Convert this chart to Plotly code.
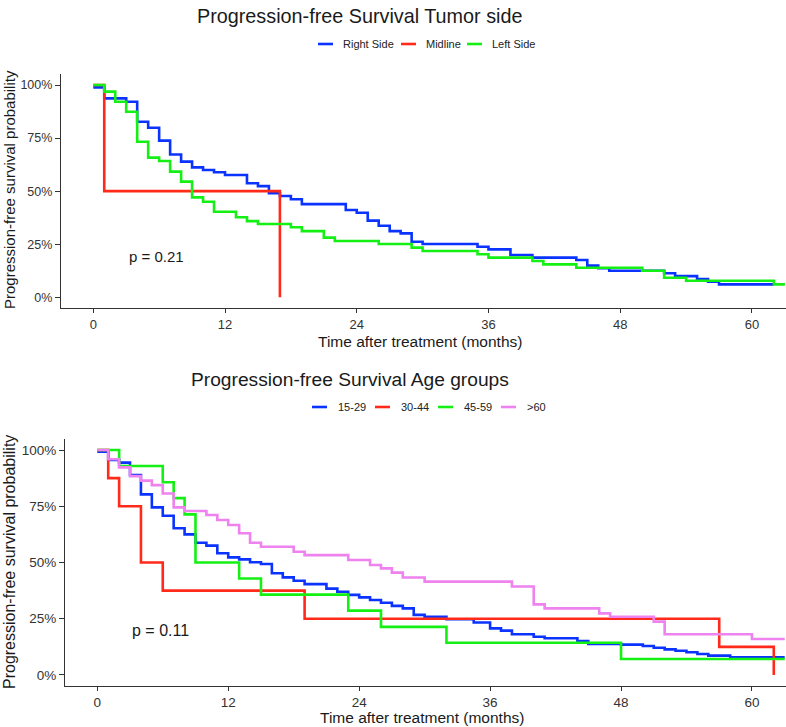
import plotly.graph_objects as go

# ---------------- data ----------------
# Top panel: Progression-free Survival by tumor side
side_names = ["Right Side", "Midline", "Left Side"]
right_months = [0, 1, 3, 4, 5, 6, 7, 8, 9, 10, 11, 12, 14, 15, 16, 17, 18, 19, 23, 24, 25, 26, 27, 28,
                29, 30, 35, 36, 38, 40, 44, 45, 46, 47, 52, 53, 55, 56, 57, 62]
right_surv = [0.989, 0.937, 0.921, 0.827, 0.799, 0.738, 0.673, 0.639, 0.612, 0.600, 0.589, 0.576, 0.537,
              0.524, 0.490, 0.477, 0.462, 0.439, 0.411, 0.398, 0.361, 0.337, 0.312, 0.301, 0.262, 0.251,
              0.238, 0.226, 0.199, 0.187, 0.176, 0.149, 0.137, 0.125, 0.113, 0.100, 0.086, 0.074, 0.061, 0.061]
midline_months = [0, 1, 17]
midline_surv = [1.0, 0.5, 0.0]
left_months = [0, 1, 2, 3, 4, 5, 6, 7, 8, 9, 10, 11, 13, 14, 15, 18, 19, 21, 22, 26, 29, 30, 35, 36,
               40, 41, 44, 50, 52, 54, 62, 63]
left_surv = [1.0, 0.969, 0.921, 0.874, 0.733, 0.658, 0.642, 0.592, 0.545, 0.471, 0.450, 0.403, 0.377,
             0.359, 0.345, 0.330, 0.312, 0.281, 0.265, 0.251, 0.234, 0.218, 0.203, 0.187, 0.171, 0.155,
             0.139, 0.125, 0.092, 0.078, 0.061, 0.061]
p_side = "p = 0.21"

# Bottom panel: Progression-free Survival by age group
age_names = ["15-29", "30-44", "45-59", ">60"]
a1_months = [0, 1, 2, 3, 4, 5, 6, 7, 8, 9, 10, 11, 12, 13, 14, 15, 16, 17, 18, 19, 21, 22, 23, 24, 25,
             26, 27, 28, 29, 30, 32, 34.5, 36, 37, 38, 40, 41, 44, 45, 48, 50, 51, 52, 53, 54, 55, 56, 58, 63]
a1_surv = [0.993, 0.956, 0.944, 0.889, 0.803, 0.745, 0.708, 0.652, 0.625, 0.588, 0.575, 0.541, 0.523,
           0.514, 0.501, 0.493, 0.452, 0.434, 0.419, 0.404, 0.384, 0.370, 0.356, 0.345, 0.333, 0.321,
           0.307, 0.296, 0.267, 0.259, 0.248, 0.233, 0.207, 0.197, 0.181, 0.170, 0.163, 0.151, 0.138,
           0.135, 0.129, 0.121, 0.114, 0.108, 0.101, 0.093, 0.086, 0.079, 0.079]
a2_months = [0, 1, 2, 4, 6, 19, 57, 62]
a2_surv = [1.0, 0.875, 0.75, 0.5, 0.375, 0.25, 0.125, 0.0]
a3_months = [0, 2, 6, 7, 8, 9, 13, 15, 23, 26, 32, 48, 63]
a3_surv = [1.0, 0.929, 0.857, 0.786, 0.714, 0.5, 0.429, 0.357, 0.286, 0.214, 0.143, 0.071, 0.071]
a4_months = [0, 1, 2, 3, 4, 5, 6, 7, 8, 10, 11, 12, 13, 14, 15, 18, 19, 23, 25, 26, 27, 28, 30, 38,
             40, 41, 46, 47, 51, 52, 60, 63]
a4_surv = [1.0, 0.959, 0.923, 0.884, 0.864, 0.844, 0.807, 0.745, 0.729, 0.711, 0.689, 0.667, 0.630,
           0.588, 0.570, 0.548, 0.533, 0.511, 0.489, 0.474, 0.455, 0.433, 0.415, 0.393, 0.314, 0.296,
           0.274, 0.259, 0.237, 0.181, 0.160, 0.160]
p_age = "p = 0.11"

x_ticks = [0, 12, 24, 36, 48, 60]
y_ticks = [0, 0.25, 0.5, 0.75, 1.0]
y_ticktext = ["0%", "25%", "50%", "75%", "100%"]

# ---------------- styling ----------------
W, H = 786, 727
BLUE, RED, GREEN, PINK = "#0a33ff", "#ff2a1a", "#14f014", "#ee82ee"
FONT = "Liberation Sans, Arial, sans-serif"
AX = "#333333"
LW = 2.6

def px(x):
    return x / W

def py(y):
    return 1 - y / H

fig = go.Figure()

top = [(right_months, right_surv, side_names[0], BLUE),
       (midline_months, midline_surv, side_names[1], RED),
       (left_months, left_surv, side_names[2], GREEN)]
for xs, ys, nm, col in top:
    fig.add_trace(go.Scatter(x=xs, y=ys, name=nm, mode="lines", line=dict(shape="hv", color=col, width=LW),
                             xaxis="x", yaxis="y", showlegend=False))

bottom = [(a1_months, a1_surv, age_names[0], BLUE),
          (a2_months, a2_surv, age_names[1], RED),
          (a3_months, a3_surv, age_names[2], GREEN),
          (a4_months, a4_surv, age_names[3], PINK)]
for xs, ys, nm, col in bottom:
    fig.add_trace(go.Scatter(x=xs, y=ys, name=nm, mode="lines", line=dict(shape="hv", color=col, width=LW),
                             xaxis="x2", yaxis="y2", showlegend=False))

def xaxis(domain, rng, size):
    return dict(domain=domain, range=rng, tickvals=x_ticks, showline=True, linecolor=AX, linewidth=1.2,
                ticks="outside", ticklen=4, tickcolor=AX, tickwidth=1.1, showgrid=False, zeroline=False,
                tickfont=dict(family=FONT, size=size, color="#333333"), fixedrange=True)

def yaxis(domain, rng, size, anchor):
    return dict(domain=domain, range=rng, tickvals=y_ticks, ticktext=y_ticktext, showline=True,
                linecolor=AX, linewidth=1.2, ticks="outside", ticklen=5, tickcolor=AX, tickwidth=1.1,
                showgrid=False, zeroline=False, anchor=anchor,
                tickfont=dict(family=FONT, size=size, color="#333333"), fixedrange=True)

fig.update_layout(
    width=W, height=H, margin=dict(l=0, r=0, t=0, b=0),
    paper_bgcolor="white", plot_bgcolor="white", showlegend=False,
    xaxis=dict(xaxis([px(61), 1.0], [-2.94, 63.1], 13), anchor="y"),
    yaxis=yaxis([py(308), py(74)], [-0.0504, 1.052], 12.5, "x"),
    xaxis2=dict(xaxis([px(65), 1.0], [-2.96, 63.12], 13.5), anchor="y2"),
    yaxis2=yaxis([py(686), py(439)], [-0.049, 1.049], 13.5, "x2"),
)

ann = []
shapes = []
# titles
ann.append(dict(text="Progression-free Survival Tumor side", x=px(359), y=py(16), xref="paper", yref="paper",
                showarrow=False, xanchor="center", yanchor="middle", font=dict(family=FONT, size=19.8, color="#1a1a1a")))
ann.append(dict(text="Progression-free Survival Age groups", x=px(350), y=py(379), xref="paper", yref="paper",
                showarrow=False, xanchor="center", yanchor="middle", font=dict(family=FONT, size=19.2, color="#1a1a1a")))
# legends
leg_top = [(318, side_names[0], BLUE), (401, side_names[1], RED), (467, side_names[2], GREEN)]
for x0, nm, col in leg_top:
    shapes.append(dict(type="line", xref="paper", yref="paper", x0=px(x0), x1=px(x0 + 15), y0=py(44), y1=py(44),
                       line=dict(color=col, width=LW)))
    ann.append(dict(text=nm, x=px(x0 + 23), y=py(44), xref="paper", yref="paper", showarrow=False,
                    xanchor="left", yanchor="middle", font=dict(family=FONT, size=11, color="#222222")))
leg_bot = [(312, age_names[0], BLUE), (375, age_names[1], RED), (438, age_names[2], GREEN), (501, age_names[3], PINK)]
for x0, nm, col in leg_bot:
    shapes.append(dict(type="line", xref="paper", yref="paper", x0=px(x0), x1=px(x0 + 15), y0=py(407), y1=py(407),
                       line=dict(color=col, width=LW)))
    ann.append(dict(text=nm, x=px(x0 + 24), y=py(407), xref="paper", yref="paper", showarrow=False,
                    xanchor="left", yanchor="middle", font=dict(family=FONT, size=11, color="#222222")))
# axis titles
ann.append(dict(text="Time after treatment (months)", x=px(420), y=py(341), xref="paper", yref="paper",
                showarrow=False, xanchor="center", yanchor="middle", borderpad=0,
                font=dict(family=FONT, size=15.5, color="#1a1a1a")))
ann.append(dict(text="Time after treatment (months)", x=px(422), y=py(717), xref="paper", yref="paper",
                showarrow=False, xanchor="center", yanchor="middle", borderpad=0,
                font=dict(family=FONT, size=15.5, color="#1a1a1a")))
ann.append(dict(text="Progression-free survival probability", x=px(9), y=py(190), xref="paper", yref="paper",
                showarrow=False, textangle=-90, xanchor="center", yanchor="middle",
                font=dict(family=FONT, size=15, color="#1a1a1a")))
ann.append(dict(text="Progression-free survival probability", x=px(9), y=py(562), xref="paper", yref="paper",
                showarrow=False, textangle=-90, xanchor="center", yanchor="middle",
                font=dict(family=FONT, size=16, color="#1a1a1a")))
# p-values
ann.append(dict(text=p_side, x=3.1, y=0.19, xref="x", yref="y", showarrow=False, xanchor="left",
                yanchor="middle", font=dict(family=FONT, size=15, color="#1a1a1a")))
ann.append(dict(text=p_age, x=3.0, y=0.196, xref="x2", yref="y2", showarrow=False, xanchor="left",
                yanchor="middle", font=dict(family=FONT, size=16, color="#1a1a1a")))

fig.update_layout(annotations=ann, shapes=shapes)
fig.write_html("out.html", config={"displayModeBar": False},
               post_script="document.body.style.margin='0';document.body.style.overflow='hidden';")
